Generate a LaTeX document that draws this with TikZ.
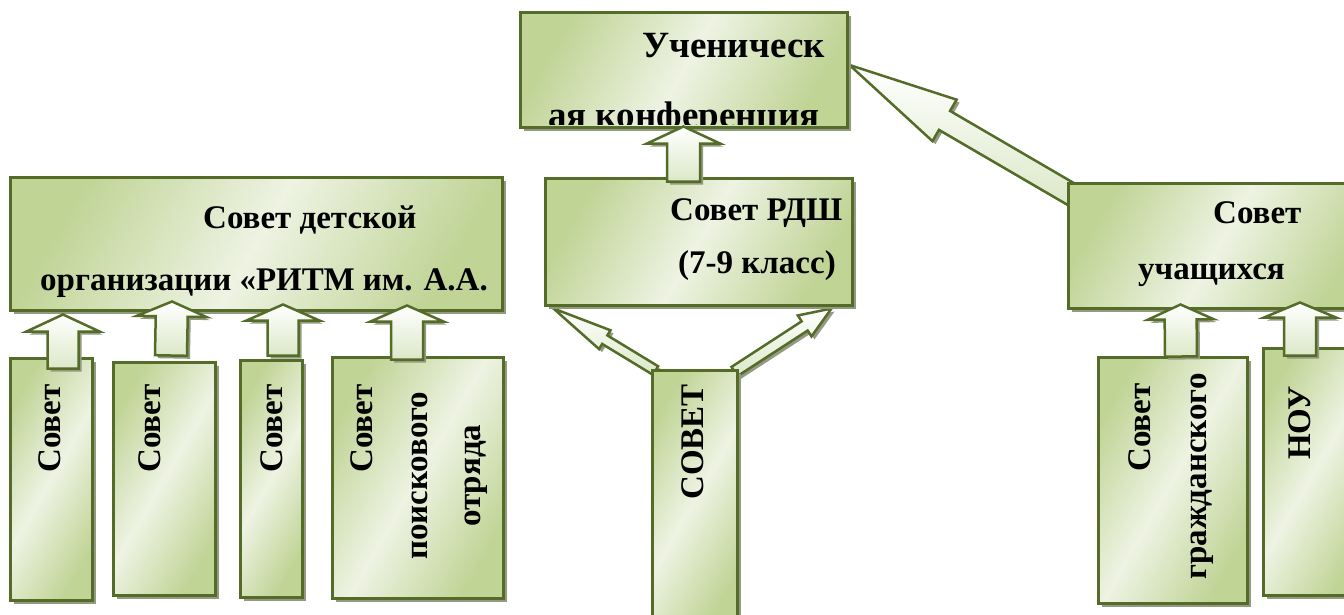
\documentclass[tikz,border=0pt]{standalone}
\usepackage{fontspec}
\setmainfont{Liberation Serif}
\usetikzlibrary{calc,shadows,backgrounds}
\definecolor{olgreen}{RGB}{192,212,150}
\definecolor{olpale}{RGB}{238,243,227}
\definecolor{oledge}{RGB}{84,108,40}
\definecolor{olshade}{RGB}{148,153,130}
\definecolor{arrowlow}{RGB}{220,232,200}

\tikzset{
  council/.style={draw=oledge, line width=3pt, inner sep=0pt,
    left color=olgreen, right color=olgreen, middle color=olpale, shading angle=60,
    drop shadow={shadow xshift=4pt, shadow yshift=-4pt, fill=olshade, opacity=1}},
  boxtext/.style={font=\bfseries\fontsize{33}{40}\selectfont, inner sep=0pt, anchor=base west},
  uptext/.style={boxtext, rotate=90},
  fat/.style={draw=oledge, line width=2.5pt, line join=miter, top color=white, bottom color=arrowlow,
    drop shadow={shadow xshift=3pt, shadow yshift=-3pt, fill=olshade, opacity=1}}
}
% fat block arrow: [opts]{tail}{tip}{shaft half}{head half}{head length}
\newcommand{\fatarrow}[6][]{%
  \path (#2) coordinate (fa-s) (#3) coordinate (fa-t) ($(fa-t)!#6!(fa-s)$) coordinate (fa-h);
  \draw[fat,#1] ($(fa-s)!#4!90:(fa-t)$) -- ($(fa-h)!#4!90:(fa-t)$) -- ($(fa-h)!#5!90:(fa-t)$)
    -- (fa-t) -- ($(fa-h)!#5!-90:(fa-t)$) -- ($(fa-h)!#4!-90:(fa-t)$) -- ($(fa-s)!#4!-90:(fa-t)$) -- cycle;}

\begin{document}
\begin{tikzpicture}[x=1pt,y=-1pt]
  \useasboundingbox (0,0) rectangle (1344,614);
  \clip (0,0) rectangle (1344,614);

  % upper level
  \node[council, minimum width=327pt, minimum height=115pt] (conf) at (683.5,69.5) {};
  \begin{scope}
    \clip ([yshift=4pt]conf.south west) rectangle (conf.north east);
    \node[boxtext, font=\bfseries\fontsize{37}{44}\selectfont] (conf-a) at (642,57) {Ученическ};
    \node[boxtext, font=\bfseries\fontsize{37}{44}\selectfont] (conf-b) at (548,127) {ая конференция};
  \end{scope}

  % middle level
  \node[council, minimum width=492pt, minimum height=133pt] (dco) at (256,243.5) {};
  \node[boxtext] (dco-a) at (203,228) {Совет детской};
  \node[boxtext] (dco-b) at (40,290) {организации «РИТМ им. А.А.};

  \node[council, minimum width=307pt, minimum height=127pt] (rdsh) at (698.5,241.5) {};
  \node[boxtext] (rdsh-a) at (670,220) {Совет РДШ};
  \node[boxtext] (rdsh-b) at (678,273) {(7-9 класс)};

  \node[council, minimum width=85pt, minimum height=260pt] (sov) at (694.5,500) {};
  \node[uptext] (sov-a) at (703,500) {СОВЕТ};

  \node[council, minimum width=302pt, minimum height=125pt] (uch) at (1219,245.5) {};
  \node[boxtext] (uch-a) at (1213,223) {Совет};
  \node[boxtext] (uch-b) at (1138,279) {учащихся};

  \begin{pgfonlayer}{background}
    \fatarrow{$(sov.north west)+(5,2)$}{$(rdsh.south west)+(10,2)$}{5pt}{11pt}{60pt}
    \fatarrow{$(sov.north east)+(-4,3)$}{$(rdsh.south east)+(-22,2)$}{5.5pt}{12.5pt}{32pt}
    \fatarrow{$(uch.north west)+(12,17)$}{$(conf.east)+(1,-4.5)$}{11pt}{24pt}{110pt}
  \end{pgfonlayer}

  % lower level
  \node[council, minimum width=82pt, minimum height=242pt] (s1) at (51,479) {};
  \node[council, minimum width=102pt, minimum height=233pt] (s2) at (164,478.5) {};
  \node[council, minimum width=62pt, minimum height=237pt] (s3) at (271,478.5) {};
  \node[council, minimum width=171pt, minimum height=241pt] (s4) at (417.5,477.5) {};
  \node[uptext] (s1-a) at (60,473) {Совет};
  \node[uptext] (s2-a) at (160,473) {Совет};
  \node[uptext] (s3-a) at (282,473) {Совет};
  \node[uptext] (s4-a) at (372,473) {Совет};
  \node[uptext] (s4-b) at (427,560) {поискового};
  \node[uptext] (s4-c) at (480,527) {отряда};

  \node[council, minimum width=149pt, minimum height=246pt] (gr) at (1172.5,480) {};
  \node[uptext] (gr-a) at (1150,472) {Совет};
  \node[uptext] (gr-b) at (1206,580) {гражданского};
  \node[council, minimum width=102pt, minimum height=247pt] (nou) at (1314,471.5) {};
  \node[uptext] (nou-a) at (1310,460) {НОУ};

  % arrows up
  \fatarrow{$(s1.north)+(12,12)$}{$(s1.north |- dco.south)+(12,3)$}{15.5pt}{36.5pt}{17pt}
  \fatarrow{$(s2.north)+(7,-5)$}{$(s2.north |- dco.south)+(8,-10)$}{16pt}{35pt}{15pt}
  \fatarrow{$(s3.north)+(12,-3)$}{$(s3.north |- dco.south)+(12,-7)$}{15.5pt}{36.5pt}{16pt}
  \fatarrow{$(s4.north)+(-10.5,4)$}{$(s4.north |- dco.south)+(-10.5,-6)$}{16pt}{36.5pt}{16pt}
  \fatarrow{$(conf.south |- rdsh.north)+(0,5)$}{$(conf.south)+(0,-2)$}{16.5pt}{36.5pt}{17pt}
  \fatarrow{$(gr.north)+(8.5,1)$}{$(gr.north |- uch.south)+(8,-5)$}{16pt}{33pt}{15pt}
  \fatarrow{$(nou.north)+(-14,9)$}{$(nou.north |- uch.south)+(-14,-7)$}{16pt}{36pt}{15pt}
\end{tikzpicture}
\end{document}
